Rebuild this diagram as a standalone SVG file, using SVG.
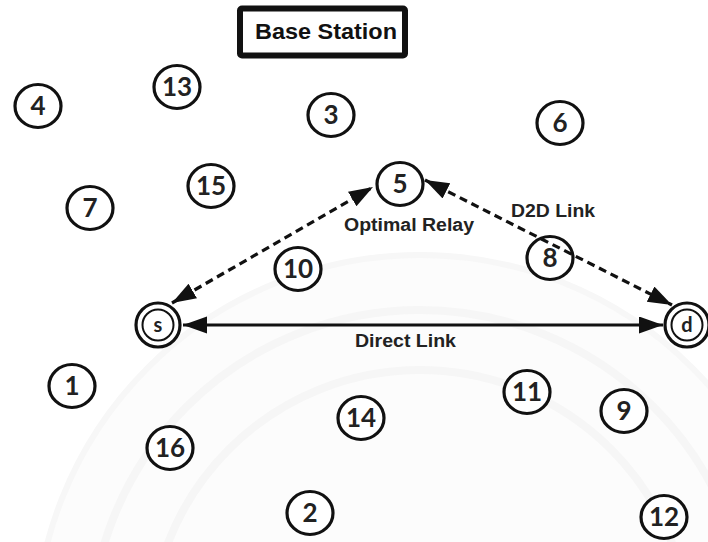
<svg xmlns="http://www.w3.org/2000/svg" width="708" height="542" viewBox="0 0 708 542">
  <defs>
    <style>
      .node { fill: #ffffff; stroke: #111111; stroke-width: 3.2; }
      .inner { fill: none; stroke: #111111; stroke-width: 2; }
      .num { font-family: Lato, "Liberation Sans", sans-serif; font-weight: 700; font-size: 26px; fill: #222222; text-anchor: middle; }
      .letter { font-family: Lato, "Liberation Sans", sans-serif; font-weight: 700; font-size: 20px; fill: #222222; text-anchor: middle; }
      .label { font-family: "Liberation Sans", Arial, sans-serif; font-weight: 700; font-size: 18px; fill: #222222; }
      .dash { fill: none; stroke: #111111; stroke-width: 3.2; stroke-dasharray: 8 5; }
      .solid { fill: none; stroke: #111111; stroke-width: 3; }
      .seal { fill: none; stroke: #f6f6f6; stroke-width: 8; }
    </style>
    <marker id="head" markerUnits="userSpaceOnUse" markerWidth="26" markerHeight="18" refX="24" refY="8.5" orient="auto-start-reverse" viewBox="0 0 26 18">
      <path d="M0,0 L24,8.5 L0,17 Z" fill="#111111"/>
    </marker>
  </defs>

  <rect width="708" height="542" fill="#ffffff"/>

  <!-- faint background seal -->
  <g id="seal">
    <circle cx="420" cy="640" r="385" fill="#fcfcfc" stroke="#f7f7f7" stroke-width="6"/>
    <circle class="seal" cx="420" cy="640" r="330"/>
    <circle class="seal" cx="420" cy="640" r="270"/>
  </g>

  <!-- base station box -->
  <g id="base-station">
    <rect x="240" y="8.5" width="165" height="47" rx="2" fill="#ffffff" stroke="#111111" stroke-width="6"/>
    <text x="326" y="38.5" font-family="'Liberation Sans', Arial, sans-serif" font-weight="700" font-size="21.5" fill="#111111" text-anchor="middle" textLength="142" lengthAdjust="spacingAndGlyphs">Base Station</text>
  </g>

  <!-- mobile nodes -->
  <g id="node-4"><ellipse class="node" cx="38" cy="106" rx="23" ry="21.5"/><text class="num" x="38" y="115">4</text></g>
  <g id="node-13"><ellipse class="node" cx="177" cy="87" rx="23" ry="21.5"/><text class="num" x="177" y="96">13</text></g>
  <g id="node-3"><ellipse class="node" cx="331" cy="115" rx="23" ry="21.5"/><text class="num" x="331" y="124">3</text></g>
  <g id="node-6"><ellipse class="node" cx="560" cy="123" rx="23" ry="21.5"/><text class="num" x="560" y="132">6</text></g>
  <g id="node-7"><ellipse class="node" cx="90" cy="208" rx="23" ry="21.5"/><text class="num" x="90" y="217">7</text></g>
  <g id="node-15"><ellipse class="node" cx="211" cy="186" rx="23" ry="21.5"/><text class="num" x="211" y="195">15</text></g>
  <g id="node-5"><ellipse class="node" cx="400" cy="184" rx="23" ry="21.5"/><text class="num" x="400" y="193">5</text></g>
  <g id="node-10"><ellipse class="node" cx="298" cy="269" rx="23" ry="21.5"/><text class="num" x="298" y="278">10</text></g>
  <g id="node-8"><ellipse class="node" cx="550" cy="258" rx="23" ry="21.5"/><text class="num" x="550" y="267">8</text></g>
  <g id="node-1"><ellipse class="node" cx="72" cy="386" rx="23" ry="21.5"/><text class="num" x="72" y="395">1</text></g>
  <g id="node-16"><ellipse class="node" cx="170" cy="448" rx="23" ry="21.5"/><text class="num" x="170" y="457">16</text></g>
  <g id="node-14"><ellipse class="node" cx="361" cy="418" rx="23" ry="21.5"/><text class="num" x="361" y="427">14</text></g>
  <g id="node-11"><ellipse class="node" cx="527" cy="392" rx="23" ry="21.5"/><text class="num" x="527" y="401">11</text></g>
  <g id="node-9"><ellipse class="node" cx="624" cy="411" rx="23" ry="21.5"/><text class="num" x="624" y="420">9</text></g>
  <g id="node-2"><ellipse class="node" cx="310" cy="513" rx="23" ry="21.5"/><text class="num" x="310" y="522">2</text></g>
  <g id="node-12"><ellipse class="node" cx="664" cy="517" rx="23" ry="21.5"/><text class="num" x="664" y="526">12</text></g>

  <!-- source and destination -->
  <g id="node-s">
    <circle class="node" cx="158" cy="325" r="22"/>
    <circle class="inner" cx="158" cy="325" r="15.5"/>
    <text class="letter" x="158" y="332">s</text>
  </g>
  <g id="node-d">
    <circle class="node" cx="687" cy="325" r="22"/>
    <circle class="inner" cx="687" cy="325" r="15.5"/>
    <text class="letter" x="687" y="332">d</text>
  </g>

  <!-- links -->
  <g id="connectors">
    <line class="dash" x1="172" y1="303" x2="373" y2="187" marker-start="url(#head)" marker-end="url(#head)"/>
    <line class="dash" x1="425" y1="180" x2="672" y2="305" marker-start="url(#head)" marker-end="url(#head)"/>
    <line class="solid" x1="183" y1="325" x2="663" y2="325" marker-start="url(#head)" marker-end="url(#head)"/>
  </g>

  <!-- link labels -->
  <g id="labels">
    <text class="label" x="344" y="231" textLength="130" lengthAdjust="spacingAndGlyphs">Optimal Relay</text>
    <text class="label" x="511" y="217" textLength="84" lengthAdjust="spacingAndGlyphs">D2D Link</text>
    <text class="label" x="355" y="347" textLength="101" lengthAdjust="spacingAndGlyphs">Direct Link</text>
  </g>
</svg>
